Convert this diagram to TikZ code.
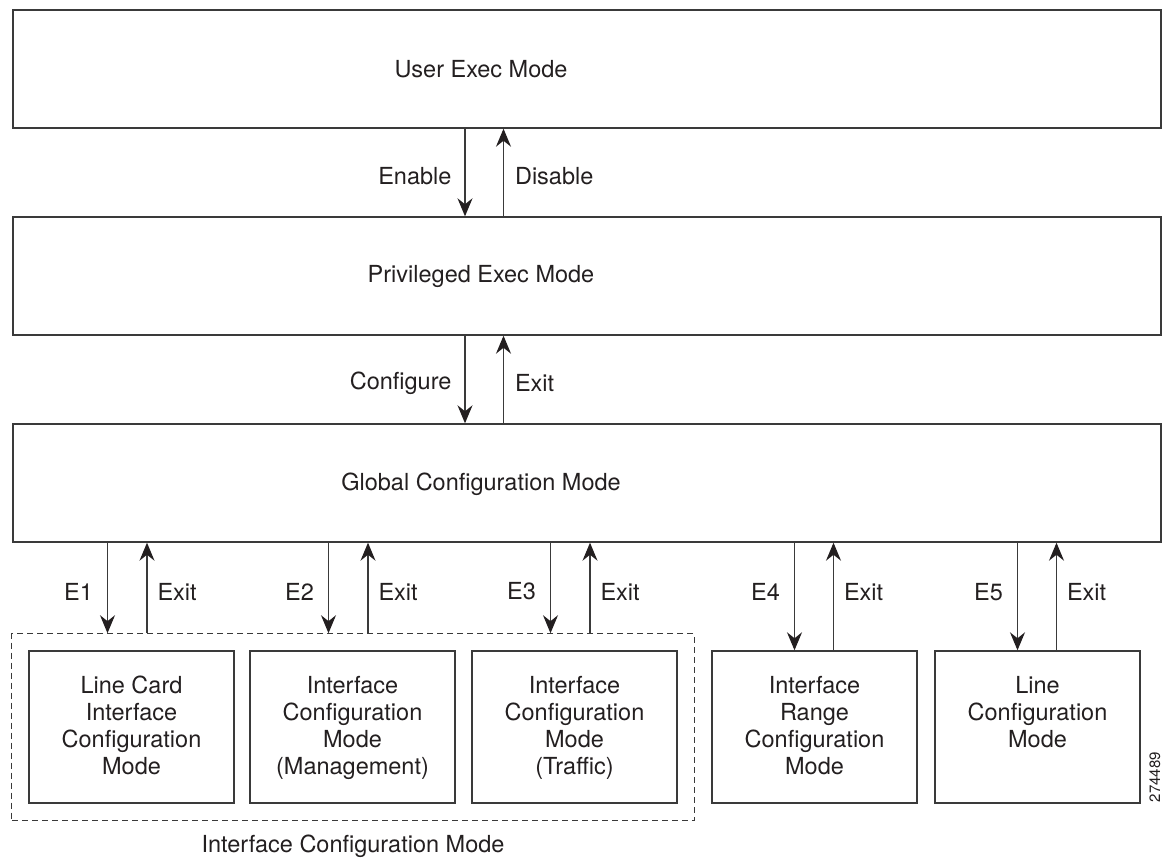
\documentclass[tikz,border=0pt]{standalone}
\usepackage{fontspec}
\setmainfont{TeX Gyre Heros}
\usetikzlibrary{arrows.meta,positioning,fit}
\definecolor{linegray}{HTML}{3A3A3A}
\definecolor{inkblack}{HTML}{231F20}
\tikzset{
  modebox/.style={draw=linegray, line width=1.4pt, minimum width=1148pt, minimum height=118pt, inner sep=0pt},
  subbox/.style={draw=linegray, line width=1.4pt, minimum width=205pt, minimum height=152pt, inner sep=0pt},
  modetext/.style={font=\fontsize{23.5}{27}\selectfont, text=inkblack, inner sep=0pt, align=center},
  lbl/.style={font=\fontsize{23.5}{27}\selectfont, text=inkblack, inner sep=0pt},
  arr/.style={draw=linegray, line width=1.1pt, -{Stealth[length=18pt,width=15pt,inset=6pt,color=inkblack]}},
  grpbox/.style={draw=linegray, line width=1.2pt, dash pattern=on 6pt off 4pt, inner xsep=16.5pt, inner ysep=16.5pt},
}
\begin{document}
\begin{tikzpicture}[x=1pt,y=-1pt]
  \useasboundingbox (0,0) rectangle (1173,857);
  % exec and global modes
  \node[modebox] (user) at (587,69) {};
  \node[modebox] (priv) at (587,276) {};
  \node[modebox] (glob) at (587,483) {};
  \node[modetext] (user-t) at (481,69) {User Exec Mode};
  \node[modetext] (priv-t) at (481,276) {Privileged Exec Mode};
  \node[modetext] (glob-t) at (481,484) {Global Configuration Mode};
  \draw[arr] ([xshift=-122pt]user.south) -- node[lbl, pos=.54, left=13pt] {Enable} ([xshift=-122pt]priv.north);
  \draw[arr] ([xshift=-83.5pt]priv.north) -- node[lbl, pos=.46, right=11pt] {Disable} ([xshift=-83.5pt]user.south);
  \draw[arr] ([xshift=-122pt]priv.south) -- node[lbl, pos=.54, left=13pt] {Configure} ([xshift=-122pt]glob.north);
  \draw[arr] ([xshift=-83.5pt]glob.north) -- node[lbl, pos=.46, right=11pt] {Exit} ([xshift=-83.5pt]priv.south);
  % submodes
  \node[subbox] (lc) at (131.5,727) {};
  \node[subbox] (mg) at (352.5,727) {};
  \node[subbox] (tr) at (574.5,727) {};
  \node[subbox] (rg) at (814.5,727) {};
  \node[subbox] (ln) at (1037.5,727) {};
  \node[modetext, anchor=north] (lc-t) at (131.5,676) {Line Card\\Interface\\Configuration\\Mode};
  \node[modetext, anchor=north] (mg-t) at (352.5,676) {Interface\\Configuration\\Mode\\(Management)};
  \node[modetext, anchor=north] (tr-t) at (574.5,676) {Interface\\Configuration\\Mode\\(Traffic)};
  \node[modetext, anchor=north] (rg-t) at (814.5,676) {Interface\\Range\\Configuration\\Mode};
  \node[modetext, anchor=north] (ln-t) at (1037.5,676) {Line\\Configuration\\Mode};
  \node[grpbox, fit=(lc)(mg)(tr)] (grp) {};
  \node[modetext, below=14pt of grp] (grp-t) {Interface Configuration Mode};
  \foreach \b/\e in {lc/E1, mg/E2, tr/E3} {
    \draw[arr] ([xshift=-24pt]glob.south -| \b) -- node[lbl, pos=.54, left=14pt] {\e} ([xshift=-24pt]grp.north -| \b);
    \draw[arr] ([xshift=15.5pt]grp.north -| \b) -- node[lbl, pos=.46, right=10pt] {Exit} ([xshift=15.5pt]glob.south -| \b);
  }
  \foreach \b/\e in {rg/E4, ln/E5} {
    \draw[arr] ([xshift=-20pt]glob.south -| \b) -- node[lbl, pos=.46, left=14pt] {\e} ([xshift=-20pt]\b.north);
    \draw[arr] ([xshift=19pt]\b.north) -- node[lbl, pos=.54, right=10pt] {Exit} ([xshift=19pt]glob.south -| \b);
  }
  \node[rotate=90, font=\fontsize{15}{18}\selectfont, text=inkblack, inner sep=0pt] (figno) at (1155,777) {274489};
\end{tikzpicture}
\end{document}
